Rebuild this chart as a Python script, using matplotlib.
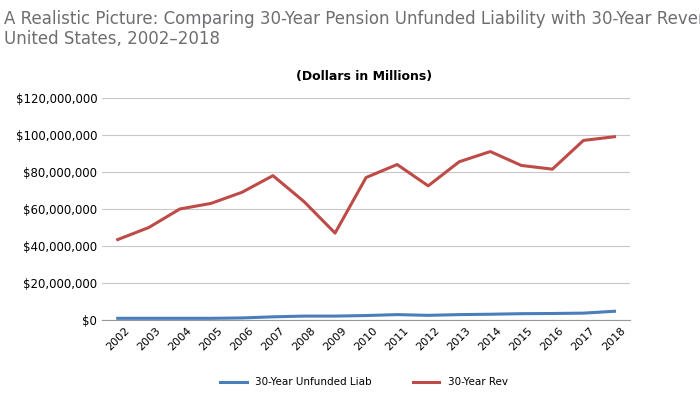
import matplotlib.pyplot as plt
from matplotlib.ticker import FuncFormatter

years = list(range(2002, 2019))
unfunded = [1.0, 1.0, 1.0, 1.0, 1.2, 1.8, 2.2, 2.2, 2.5, 3.0, 2.6, 3.0, 3.2, 3.5, 3.6, 3.8, 4.8]
revenue = [43.5, 50, 60, 63, 69, 78, 64, 47, 77, 84, 72.5, 85.5, 91, 83.5, 81.5, 97, 99]
unfunded = [v * 1e6 for v in unfunded]
revenue = [v * 1e6 for v in revenue]

fig = plt.figure(figsize=(7, 4.11), dpi=100)
ax = fig.add_axes([0.146, 0.221, 0.754, 0.541])
ax.plot(years, unfunded, color="#4a7ebb", linewidth=2.2, label="30-Year Unfunded Liab")
ax.plot(years, revenue, color="#be4b48", linewidth=2.2, label="30-Year Rev")

ax.set_ylim(0, 120e6)
ax.set_yticks(range(0, 120000001, 20000000))
ax.yaxis.set_major_formatter(FuncFormatter(lambda v, _: f"${v:,.0f}"))
ax.set_xlim(2001.5, 2018.5)
ax.set_xticks(years)
ax.set_xticklabels([str(y) for y in years], rotation=45, fontsize=8)
ax.tick_params(axis="y", labelsize=8.5, length=0)
ax.tick_params(axis="x", length=0)
ax.grid(axis="y", color="#c8c8c8", linewidth=0.8)
for s in ("top", "right", "left"):
    ax.spines[s].set_visible(False)
ax.spines["bottom"].set_color("#999999")

fig.text(0.005, 0.975, "A Realistic Picture: Comparing 30-Year Pension Unfunded Liability with 30-Year Revenues,\nUnited States, 2002\u20132018",
         fontsize=12, color="#6d6e71", va="top", ha="left", linespacing=1.15,
         family="Liberation Sans Narrow")
fig.text(0.52, 0.805, "(Dollars in Millions)", fontsize=9, fontweight="bold", ha="center")
fig.legend(loc="lower center", bbox_to_anchor=(0.52, 0.035), ncol=2, frameon=False,
           fontsize=7.5, handlelength=2.5, columnspacing=4)
fig.savefig("out.png")
